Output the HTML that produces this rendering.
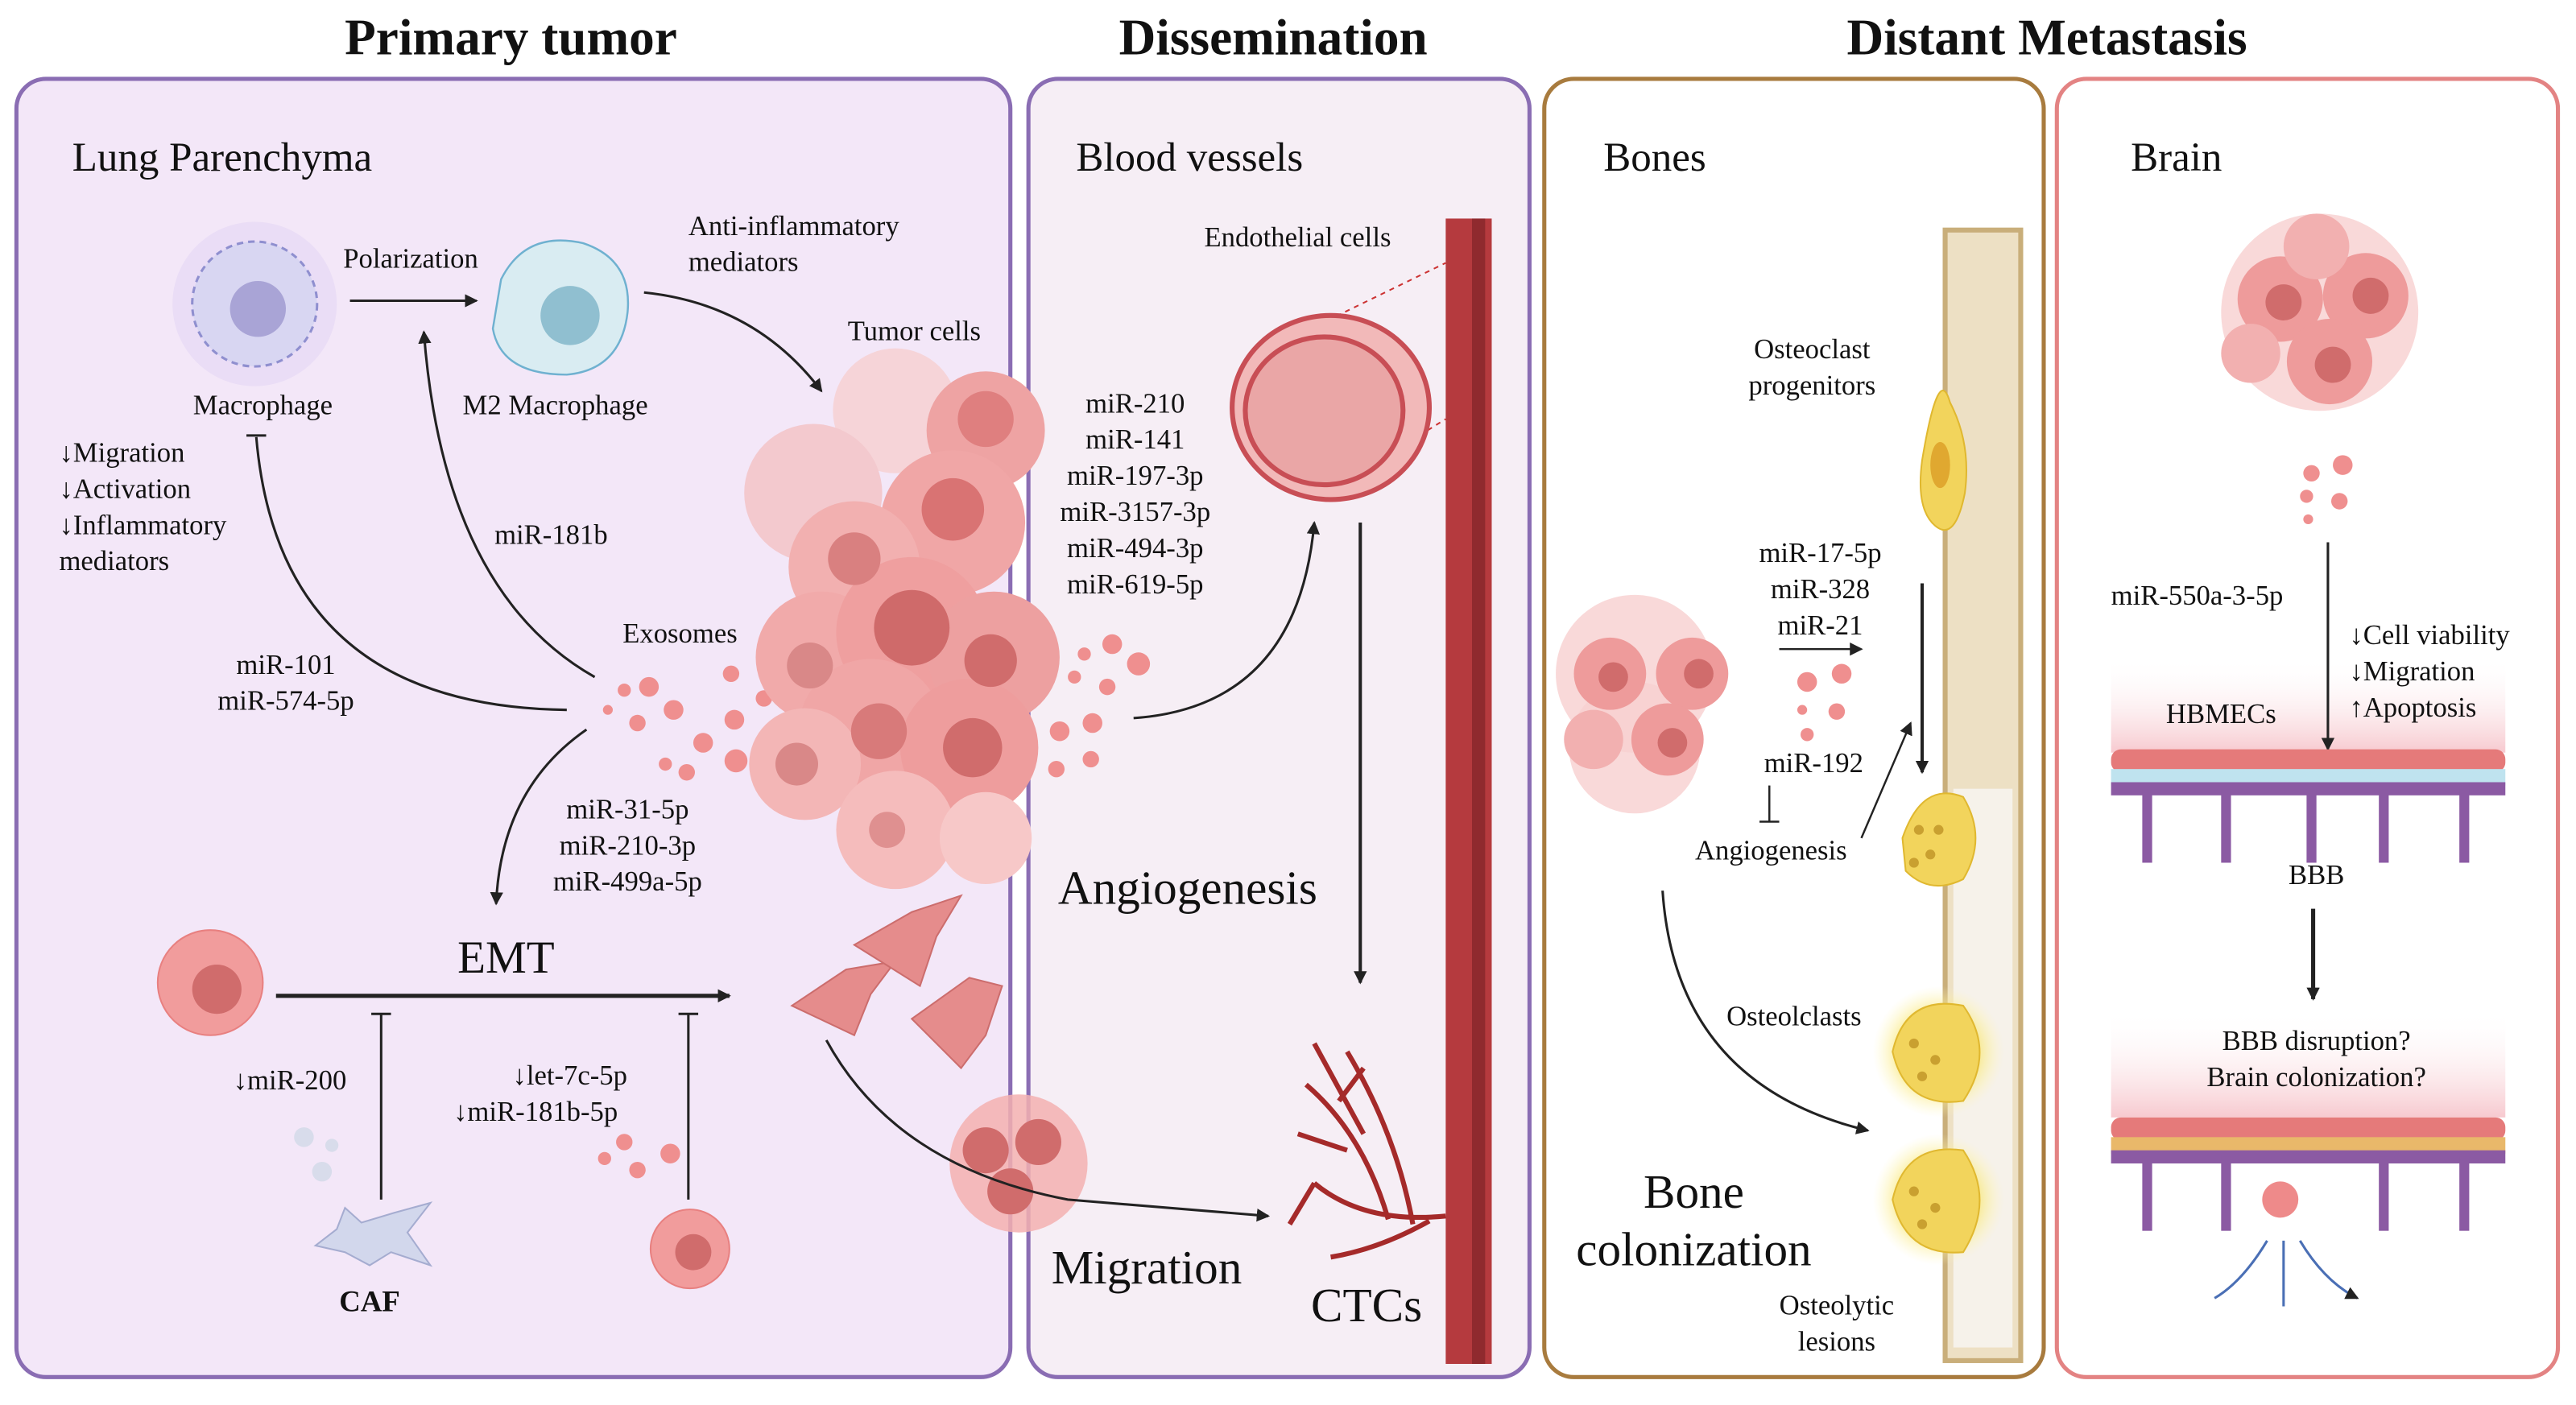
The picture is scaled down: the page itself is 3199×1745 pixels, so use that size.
<!DOCTYPE html>
<html><head><meta charset="utf-8"><style>
html,body{margin:0;padding:0;background:#fff}
svg{display:block}
text{font-family:"Liberation Serif",serif;fill:#111}
</style></head><body>
<svg width="3199" height="1745" viewBox="0 0 1568 855" preserveAspectRatio="none" xmlns="http://www.w3.org/2000/svg">
<defs>
<marker id="ar" markerWidth="8" markerHeight="8" refX="7" refY="4" orient="auto" markerUnits="userSpaceOnUse"><path d="M0,0 L8,4 L0,8 z" fill="#222"/></marker>
<radialGradient id="glow" cx="50%" cy="50%" r="50%"><stop offset="0.5" stop-color="#f7e36a"/><stop offset="1" stop-color="#fff8c0" stop-opacity="0"/></radialGradient>
<linearGradient id="pinkband" x1="0" y1="0" x2="0" y2="1"><stop offset="0" stop-color="#fff" stop-opacity="0"/><stop offset="1" stop-color="#f7c9cf"/></linearGradient>
</defs>

<text x="311" y="33" font-size="31" font-weight="bold" text-anchor="middle">Primary tumor</text>
<text x="775" y="33" font-size="31" font-weight="bold" text-anchor="middle">Dissemination</text>
<text x="1246" y="33" font-size="31" font-weight="bold" text-anchor="middle">Distant Metastasis</text>

<rect x="10" y="48" width="605" height="790" rx="18" fill="#f3e7f8" stroke="#8a6db3" stroke-width="2.5"/>
<rect x="626" y="48" width="305" height="790" rx="18" fill="#f6eef5" stroke="#8a6db3" stroke-width="2.5"/>
<rect x="940" y="48" width="304" height="790" rx="18" fill="#fff" stroke="#a87b3e" stroke-width="2.5"/>
<rect x="1252" y="48" width="305" height="790" rx="18" fill="#fff" stroke="#e38383" stroke-width="2.5"/>

<!-- panel 1 -->
<text x="44" y="104" font-size="25">Lung Parenchyma</text>
<circle cx="155" cy="185" r="50" fill="#e5d8f5" opacity="0.7"/>
<circle cx="155" cy="185" r="38" fill="#d8d6f2" stroke="#8f8fcf" stroke-width="1.5" stroke-dasharray="4 3"/>
<circle cx="157" cy="188" r="17" fill="#a9a4d6"/>
<text x="250" y="163" font-size="17" text-anchor="middle">Polarization</text>
<line x1="213" y1="183" x2="290" y2="183" stroke="#222" stroke-width="1.5" marker-end="url(#ar)"/>
<path d="M305,170 Q320,140 355,148 Q385,158 382,190 Q378,225 345,228 Q305,228 300,200 Z" fill="#d9ecf2" stroke="#6fb1d0" stroke-width="1.2"/>
<circle cx="347" cy="192" r="18" fill="#90bfd0"/>
<text x="160" y="252" font-size="17" text-anchor="middle">Macrophage</text>
<text x="338" y="252" font-size="17" text-anchor="middle">M2 Macrophage</text>
<text x="419" y="143" font-size="17">Anti-inflammatory</text>
<text x="419" y="165" font-size="17">mediators</text>
<path d="M392,178 Q460,185 500,238" fill="none" stroke="#222" stroke-width="1.5" marker-end="url(#ar)"/>
<text x="516" y="207" font-size="17">Tumor cells</text>
<text x="36" y="281" font-size="17">↓Migration</text>
<text x="36" y="303" font-size="17">↓Activation</text>
<text x="36" y="325" font-size="17">↓Inflammatory</text>
<text x="36" y="347" font-size="17">mediators</text>
<text x="301" y="331" font-size="17">miR-181b</text>
<text x="174" y="410" font-size="17" text-anchor="middle">miR-101</text>
<text x="174" y="432" font-size="17" text-anchor="middle">miR-574-5p</text>
<text x="379" y="391" font-size="17">Exosomes</text>
<path d="M345,432 Q170,430 156,266" fill="none" stroke="#222" stroke-width="1.5"/>
<line x1="150" y1="265" x2="162" y2="265" stroke="#222" stroke-width="1.5"/>
<path d="M362,412 Q270,360 258,202" fill="none" stroke="#222" stroke-width="1.5" marker-end="url(#ar)"/>
<path d="M357,444 Q305,480 302,550" fill="none" stroke="#222" stroke-width="1.5" marker-end="url(#ar)"/>
<text x="382" y="498" font-size="17" text-anchor="middle">miR-31-5p</text>
<text x="382" y="520" font-size="17" text-anchor="middle">miR-210-3p</text>
<text x="382" y="542" font-size="17" text-anchor="middle">miR-499a-5p</text>
<g fill="#ef8f8f">
<circle cx="370" cy="432" r="3"/><circle cx="380" cy="420" r="4"/><circle cx="395" cy="418" r="6"/><circle cx="388" cy="440" r="5"/><circle cx="410" cy="432" r="6"/><circle cx="405" cy="465" r="4"/><circle cx="428" cy="452" r="6"/><circle cx="445" cy="410" r="5"/><circle cx="447" cy="438" r="6"/><circle cx="448" cy="463" r="7"/><circle cx="418" cy="470" r="5"/><circle cx="465" cy="425" r="5"/>
</g>
<!-- tumor mass: cluster of cells -->
<g>
<circle cx="545" cy="250" r="38" fill="#f6d4d8"/>
<circle cx="495" cy="300" r="42" fill="#f3c9ce"/>
<circle cx="600" cy="262" r="36" fill="#eea3a3"/>
<circle cx="580" cy="318" r="44" fill="#f0a6a6"/>
<circle cx="520" cy="345" r="40" fill="#f2b0b0"/>
<circle cx="500" cy="400" r="40" fill="#f1aaaa"/>
<circle cx="555" cy="385" r="46" fill="#ef9f9f"/>
<circle cx="605" cy="400" r="40" fill="#eda0a0"/>
<circle cx="530" cy="445" r="44" fill="#f0a6a6"/>
<circle cx="590" cy="455" r="42" fill="#ee9d9d"/>
<circle cx="490" cy="465" r="34" fill="#f3b6b6"/>
<circle cx="545" cy="505" r="36" fill="#f5bcbc"/>
<circle cx="600" cy="510" r="28" fill="#f7c8c8"/>
<circle cx="600" cy="255" r="17" fill="#df7f7f"/>
<circle cx="580" cy="310" r="19" fill="#d97373"/>
<circle cx="520" cy="340" r="16" fill="#d98080"/>
<circle cx="555" cy="382" r="23" fill="#cf6a6a"/>
<circle cx="493" cy="405" r="14" fill="#d98888"/>
<circle cx="603" cy="402" r="16" fill="#d06c6c"/>
<circle cx="535" cy="445" r="17" fill="#d87a7a"/>
<circle cx="592" cy="455" r="18" fill="#d06c6c"/>
<circle cx="485" cy="465" r="13" fill="#d98888"/>
<circle cx="540" cy="505" r="11" fill="#df9090"/>
</g>
<circle cx="128" cy="598" r="32" fill="#f19c9c" stroke="#e88080"/>
<circle cx="132" cy="602" r="15" fill="#d06c6c"/>
<text x="308" y="592" font-size="28" text-anchor="middle">EMT</text>
<line x1="168" y1="606" x2="444" y2="606" stroke="#222" stroke-width="2.5" marker-end="url(#ar)"/>
<line x1="232" y1="730" x2="232" y2="617" stroke="#222" stroke-width="1.5"/>
<line x1="226" y1="617" x2="238" y2="617" stroke="#222" stroke-width="1.5"/>
<line x1="419" y1="730" x2="419" y2="617" stroke="#222" stroke-width="1.5"/>
<line x1="413" y1="617" x2="425" y2="617" stroke="#222" stroke-width="1.5"/>
<text x="142" y="663" font-size="17">↓miR-200</text>
<text x="312" y="660" font-size="17">↓let-7c-5p</text>
<text x="276" y="682" font-size="17">↓miR-181b-5p</text>
<g fill="#d8dceb"><circle cx="185" cy="692" r="6"/><circle cx="202" cy="697" r="4"/><circle cx="196" cy="713" r="6"/></g>
<path d="M192,758 L205,748 L210,735 L220,744 L240,738 L262,732 L248,750 L262,770 L238,762 L225,770 L210,762 Z" fill="#d2d7ec" stroke="#a5acd0"/>
<text x="225" y="798" font-size="18" font-weight="bold" text-anchor="middle" font-family="Liberation Sans,sans-serif">CAF</text>
<g fill="#ef8f8f"><circle cx="368" cy="705" r="4"/><circle cx="380" cy="695" r="5"/><circle cx="388" cy="712" r="5"/><circle cx="408" cy="702" r="6"/></g>
<circle cx="420" cy="760" r="24" fill="#f19c9c" stroke="#e88080"/>
<circle cx="422" cy="762" r="11" fill="#d06c6c"/>
<path d="M482,612 L515,590 L545,585 L530,605 L520,630 Z" fill="#e58c8c" stroke="#cc6d6d"/>
<path d="M520,575 L555,555 L585,545 L570,570 L560,600 Z" fill="#e58c8c" stroke="#cc6d6d"/>
<path d="M555,620 L590,595 L610,600 L600,630 L585,650 Z" fill="#e58c8c" stroke="#cc6d6d"/>
<circle cx="620" cy="708" r="42" fill="#f3b0b0" opacity="0.85"/>
<circle cx="600" cy="700" r="14" fill="#d06c6c"/><circle cx="632" cy="695" r="14" fill="#d06c6c"/><circle cx="615" cy="725" r="14" fill="#d06c6c"/>
<path d="M503,633 Q545,710 650,730 L772,740" fill="none" stroke="#222" stroke-width="1.5" marker-end="url(#ar)"/>

<!-- panel 2 -->
<text x="655" y="104" font-size="25">Blood vessels</text>
<text x="733" y="150" font-size="17">Endothelial cells</text>
<rect x="880" y="133" width="28" height="697" fill="#b53a3e"/>
<rect x="896" y="133" width="8" height="697" fill="#8f2a2e"/>
<line x1="808" y1="195" x2="880" y2="160" stroke="#c33" stroke-dasharray="3 3"/>
<line x1="808" y1="300" x2="880" y2="255" stroke="#c33" stroke-dasharray="3 3"/>
<ellipse cx="810" cy="248" rx="60" ry="56" fill="#f2b9b9" stroke="#c84e55" stroke-width="3"/>
<ellipse cx="806" cy="250" rx="48" ry="45" fill="#eaa6a6" stroke="#c84e55" stroke-width="3"/>
<text x="691" y="251" font-size="17" text-anchor="middle">miR-210</text>
<text x="691" y="273" font-size="17" text-anchor="middle">miR-141</text>
<text x="691" y="295" font-size="17" text-anchor="middle">miR-197-3p</text>
<text x="691" y="317" font-size="17" text-anchor="middle">miR-3157-3p</text>
<text x="691" y="339" font-size="17" text-anchor="middle">miR-494-3p</text>
<text x="691" y="361" font-size="17" text-anchor="middle">miR-619-5p</text>
<g fill="#ef8f8f"><circle cx="660" cy="398" r="4"/><circle cx="677" cy="392" r="6"/><circle cx="693" cy="404" r="7"/><circle cx="654" cy="412" r="4"/><circle cx="674" cy="418" r="5"/><circle cx="645" cy="445" r="6"/><circle cx="665" cy="440" r="6"/><circle cx="664" cy="462" r="5"/><circle cx="643" cy="468" r="5"/></g>
<path d="M690,437 Q790,430 800,318" fill="none" stroke="#222" stroke-width="1.5" marker-end="url(#ar)"/>
<line x1="828" y1="318" x2="828" y2="598" stroke="#222" stroke-width="2" marker-end="url(#ar)"/>
<text x="644" y="550" font-size="29">Angiogenesis</text>
<text x="640" y="781" font-size="29">Migration</text>
<text x="798" y="804" font-size="29">CTCs</text>
<path d="M880,740 Q830,745 800,720 M845,742 Q830,690 795,660 M860,745 Q850,690 820,640 M820,700 L790,690 M830,690 L800,635 M815,670 L830,650 M800,720 L785,745 M870,743 Q840,760 810,765" fill="none" stroke="#a52a2a" stroke-width="3"/>

<!-- panel 3 -->
<text x="976" y="104" font-size="25">Bones</text>
<rect x="1184" y="140" width="46" height="688" fill="#ede0c4" stroke="#c9ae7a" stroke-width="3"/>
<rect x="1189" y="480" width="36" height="340" fill="#f6f2ea"/>
<path d="M1170,280 Q1180,220 1187,245 Q1200,270 1196,300 Q1190,330 1178,320 Q1166,310 1170,280 Z" fill="#f2d45c" stroke="#e0b830"/>
<ellipse cx="1181" cy="283" rx="6" ry="14" fill="#e0a830"/>
<text x="1103" y="218" font-size="17" text-anchor="middle">Osteoclast</text>
<text x="1103" y="240" font-size="17" text-anchor="middle">progenitors</text>
<text x="1108" y="342" font-size="17" text-anchor="middle">miR-17-5p</text>
<text x="1108" y="364" font-size="17" text-anchor="middle">miR-328</text>
<text x="1108" y="386" font-size="17" text-anchor="middle">miR-21</text>
<line x1="1083" y1="395" x2="1133" y2="395" stroke="#222" stroke-width="1.2" marker-end="url(#ar)"/>
<line x1="1170" y1="355" x2="1170" y2="470" stroke="#222" stroke-width="2" marker-end="url(#ar)"/>
<g fill="#ef8f8f"><circle cx="1100" cy="415" r="6"/><circle cx="1121" cy="410" r="6"/><circle cx="1118" cy="433" r="5"/><circle cx="1097" cy="432" r="3"/><circle cx="1100" cy="447" r="4"/></g>
<text x="1104" y="470" font-size="17" text-anchor="middle">miR-192</text>
<line x1="1077" y1="478" x2="1077" y2="500" stroke="#222" stroke-width="1.2"/>
<line x1="1071" y1="500" x2="1083" y2="500" stroke="#222" stroke-width="1.2"/>
<text x="1078" y="523" font-size="17" text-anchor="middle">Angiogenesis</text>
<line x1="1133" y1="510" x2="1163" y2="440" stroke="#222" stroke-width="1.2" marker-end="url(#ar)"/>
<circle cx="995" cy="410" r="48" fill="#f7d0d0" opacity="0.8"/>
<circle cx="995" cy="455" r="40" fill="#f7d0d0" opacity="0.8"/>
<circle cx="980" cy="410" r="22" fill="#ee9b9b"/><circle cx="1030" cy="410" r="22" fill="#ee9b9b"/><circle cx="1015" cy="450" r="22" fill="#ee9b9b"/><circle cx="970" cy="450" r="18" fill="#f2b0b0"/>
<circle cx="982" cy="412" r="9" fill="#d06c6c"/><circle cx="1034" cy="410" r="9" fill="#d06c6c"/><circle cx="1018" cy="452" r="9" fill="#d06c6c"/>
<path d="M1158,510 Q1170,475 1195,485 Q1210,510 1195,535 Q1175,545 1160,530 Z" fill="#f2d45c" stroke="#e0b830"/>
<g fill="#c9a030"><circle cx="1168" cy="505" r="3"/><circle cx="1175" cy="520" r="3"/><circle cx="1165" cy="525" r="3"/><circle cx="1180" cy="505" r="3"/></g>
<circle cx="1180" cy="640" r="40" fill="url(#glow)"/>
<path d="M1152,640 Q1160,605 1195,612 Q1215,640 1195,670 Q1160,675 1152,640 Z" fill="#f2d45c" stroke="#e0b830"/>
<circle cx="1180" cy="730" r="40" fill="url(#glow)"/>
<path d="M1152,730 Q1160,695 1195,700 Q1215,730 1195,762 Q1160,765 1152,730 Z" fill="#f2d45c" stroke="#e0b830"/>
<g fill="#c9a030"><circle cx="1165" cy="635" r="3"/><circle cx="1178" cy="645" r="3"/><circle cx="1170" cy="655" r="3"/><circle cx="1165" cy="725" r="3"/><circle cx="1178" cy="735" r="3"/><circle cx="1170" cy="745" r="3"/></g>
<text x="1092" y="624" font-size="17" text-anchor="middle">Osteolclasts</text>
<path d="M1012,542 Q1020,660 1137,688" fill="none" stroke="#222" stroke-width="1.5" marker-end="url(#ar)"/>
<text x="1031" y="735" font-size="29" text-anchor="middle">Bone</text>
<text x="1031" y="770" font-size="29" text-anchor="middle">colonization</text>
<text x="1118" y="800" font-size="17" text-anchor="middle">Osteolytic</text>
<text x="1118" y="822" font-size="17" text-anchor="middle">lesions</text>

<!-- panel 4 -->
<text x="1297" y="104" font-size="25">Brain</text>
<circle cx="1412" cy="190" r="60" fill="#f7d0d0" opacity="0.8"/>
<circle cx="1388" cy="182" r="26" fill="#ee9b9b"/><circle cx="1440" cy="180" r="26" fill="#ee9b9b"/><circle cx="1418" cy="220" r="26" fill="#ee9b9b"/><circle cx="1370" cy="215" r="18" fill="#f2b0b0"/><circle cx="1410" cy="150" r="20" fill="#f2b0b0"/>
<circle cx="1390" cy="184" r="11" fill="#d06c6c"/><circle cx="1443" cy="180" r="11" fill="#d06c6c"/><circle cx="1420" cy="222" r="11" fill="#d06c6c"/>
<g fill="#ef8f8f"><circle cx="1407" cy="288" r="5"/><circle cx="1426" cy="283" r="6"/><circle cx="1424" cy="305" r="5"/><circle cx="1404" cy="302" r="4"/><circle cx="1405" cy="316" r="3"/></g>
<rect x="1285" y="400" width="240" height="58" fill="url(#pinkband)"/>
<rect x="1285" y="615" width="240" height="65" fill="url(#pinkband)"/>
<text x="1285" y="368" font-size="17">miR-550a-3-5p</text>
<line x1="1417" y1="330" x2="1417" y2="456" stroke="#222" stroke-width="1.5" marker-end="url(#ar)"/>
<text x="1430" y="392" font-size="17">↓Cell viability</text>
<text x="1430" y="414" font-size="17">↓Migration</text>
<text x="1430" y="436" font-size="17">↑Apoptosis</text>
<text x="1352" y="440" font-size="17" text-anchor="middle">HBMECs</text>
<rect x="1285" y="456" width="240" height="14" rx="6" fill="#e57a7a"/>
<rect x="1285" y="468" width="240" height="10" fill="#bfe3ef"/>
<rect x="1285" y="476" width="240" height="8" fill="#8b5aa3"/>
<g fill="#8b5aa3"><rect x="1304" y="480" width="6" height="45"/><rect x="1352" y="480" width="6" height="45"/><rect x="1404" y="480" width="6" height="45"/><rect x="1448" y="480" width="6" height="45"/><rect x="1497" y="480" width="6" height="45"/></g>
<text x="1410" y="538" font-size="17" text-anchor="middle">BBB</text>
<line x1="1408" y1="553" x2="1408" y2="608" stroke="#222" stroke-width="2.5" marker-end="url(#ar)"/>
<text x="1410" y="639" font-size="17" text-anchor="middle">BBB disruption?</text>
<text x="1410" y="661" font-size="17" text-anchor="middle">Brain colonization?</text>
<rect x="1285" y="680" width="240" height="14" rx="6" fill="#e57a7a"/>
<rect x="1285" y="692" width="240" height="10" fill="#e9b86a"/>
<rect x="1285" y="700" width="240" height="8" fill="#8b5aa3"/>
<g fill="#8b5aa3"><rect x="1304" y="704" width="6" height="45"/><rect x="1352" y="704" width="6" height="45"/><rect x="1448" y="704" width="6" height="45"/><rect x="1497" y="704" width="6" height="45"/></g>
<circle cx="1388" cy="730" r="11" fill="#ee8a8a"/>
<path d="M1380,755 Q1365,780 1348,790 M1390,755 L1390,795 M1400,755 Q1415,780 1435,790" fill="none" stroke="#4a6fb5" stroke-width="1.5" marker-end="url(#ar)"/>
</svg>
</body></html>
